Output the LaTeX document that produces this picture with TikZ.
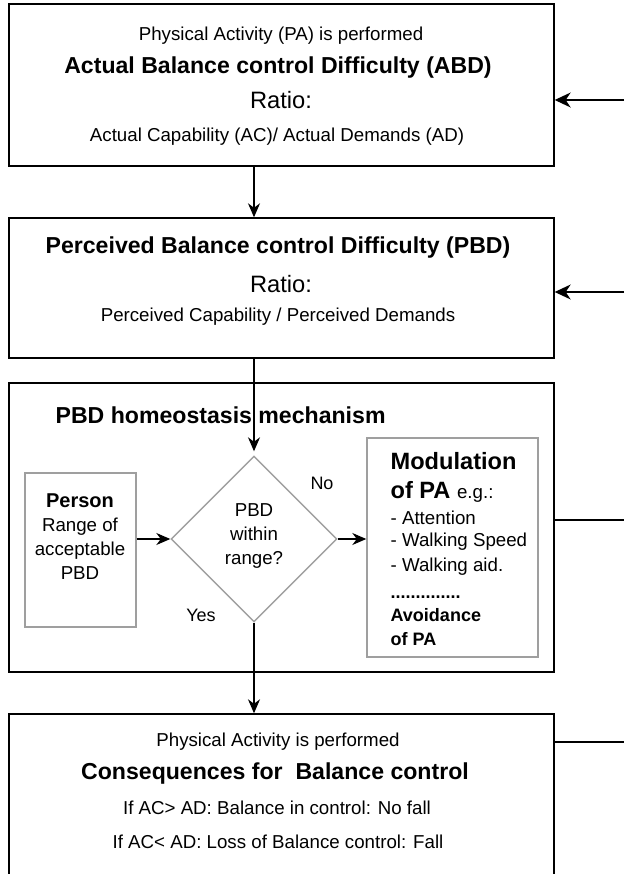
\documentclass[tikz,border=0pt]{standalone}
\usepackage{fontspec}
\setmainfont{Liberation Sans}
\usetikzlibrary{arrows.meta}
\usetikzlibrary{positioning}
\usetikzlibrary{shapes.geometric}

\tikzset{
  bigbox/.style={draw, line width=1.4pt, minimum width=545pt, inner sep=0pt},
  greybox/.style={draw=gray!75, line width=1.4pt, inner sep=0pt},
  txt/.style={inner sep=0pt},
  small/.style={font=\fontsize{18.7}{22}\selectfont},
  norm/.style={font=\fontsize{18.7}{24}\selectfont},
  head/.style={font=\bfseries\fontsize{23.1}{27}\selectfont},
  ratio/.style={font=\fontsize{23.7}{27}\selectfont},
  boldsmall/.style={font=\bfseries\fontsize{18}{22}\selectfont},
  bigtip/.style={-{Stealth[length=16pt,width=15pt,inset=5pt]}},
}

\begin{document}
\begin{tikzpicture}[x=1pt,y=-1pt,line width=1.3pt,>={Stealth[length=14pt,width=12pt,inset=4.5pt]}]
        \useasboundingbox (0,0) rectangle (624,874);
        \clip (0,0) rectangle (624,874);
        % main boxes
        \node[bigbox, minimum height=162pt] (abd)   at (281.5,85)    {};
        \node[bigbox, minimum height=140pt] (pbd)   at (281.5,288)   {};
        \node[bigbox, minimum height=289pt] (homeo) at (281.5,527.5) {};
        \node[bigbox, minimum height=186pt] (cons)  at (281.5,807)   {};
        % texts of the boxes
        \node[txt, small] (abdA) at (281,36)  {Physical Activity (PA) is performed};
        \node[txt, head]  (abdB) at (278,68)  {Actual Balance control Difficulty (ABD)};
        \node[txt, ratio] (abdC) at (281,100) {Ratio:};
        \node[txt, small] (abdD) at (277,137) {Actual Capability (AC)/ Actual Demands (AD)};
        \node[txt, head]  (pbdA) at (278,248) {Perceived Balance control Difficulty (PBD)};
        \node[txt, ratio] (pbdB) at (281,284) {Ratio:};
        \node[txt, small] (pbdC) at (278,317) {Perceived Capability / Perceived Demands};
        \node[txt, head, anchor=west] (title) at (55,415) {PBD homeostasis mechanism};
        \node[txt, small] (consA) at (278,742) {Physical Activity is performed};
        \node[txt, head]  (consB) at (275,774) {Consequences for\ \ Balance control};
        \node[txt, small] (consC) at (277,808) {If AC> AD: Balance in control: No fall};
        \node[txt, small] (consD) at (278,842) {If AC< AD: Loss of Balance control: Fall};
        % homeostasis mechanism
        \node[greybox, diamond, minimum width=166pt, minimum height=166pt] (check) at (254,539) {};
        \node[txt, norm, align=center] (checktxt) at (254,536) {PBD\\within\\range?};
        \node[greybox, minimum width=111pt, minimum height=154pt] (person) at (80.5,550) {};
        \node[txt, norm, align=center] (persontxt) at (80,537)
            {{\bfseries\fontsize{20}{24}\selectfont Person}\\Range of\\acceptable\\PBD};
        \node[greybox, minimum width=171pt, minimum height=219pt] (modul) at (452.5,547.5) {};
        \node[txt, font=\bfseries\fontsize{23.6}{28}\selectfont, anchor=west] (modA) at (390,461) {Modulation};
        \node[txt, font=\bfseries\fontsize{23.6}{28}\selectfont, anchor=west] (modB) at (390,492)
            {of PA {\mdseries\fontsize{18.7}{22}\selectfont e.g.:}};
        \node[txt, norm, anchor=west] (modC) at (390,518) {- Attention};
        \node[txt, norm, anchor=west] (modD) at (390,542) {- Walking Speed};
        \node[txt, norm, anchor=west] (modE) at (390,567) {- Walking aid.};
        \node[txt, boldsmall, anchor=base west] (modF) at (390,598) {..............};
        \node[txt, boldsmall, anchor=west] (modG) at (390,615) {Avoidance};
        \node[txt, boldsmall, anchor=west] (modH) at (390,639) {of PA};
        \node[txt, font=\fontsize{18}{22}\selectfont] (no)  at (322,483) {No};
        \node[txt, font=\fontsize{18}{22}\selectfont] (yes) at (201,615) {Yes};
        % loose ends on the right
        \coordinate (fbA) at (624,100);
        \coordinate (fbB) at (624,292);
        \coordinate (fbC) at (624,520);
        \coordinate (fbD) at (624,742);
        \path[->]
        (abd.south -| check) edge (pbd.north -| check)
        (pbd.south -| check) edge[shorten >=4pt] (check.north)
        (check.south) edge (cons.north -| check)
        (person.east |- check) edge (check.west)
        (check.east) edge (modul.west |- check)
        (fbA) edge[bigtip] (fbA -| abd.east)
        (fbB) edge[bigtip] (fbB -| pbd.east);
        \draw (homeo.east |- fbC) -- (fbC);
        \draw (cons.east |- fbD) -- (fbD);
    \end{tikzpicture}
\end{document}
